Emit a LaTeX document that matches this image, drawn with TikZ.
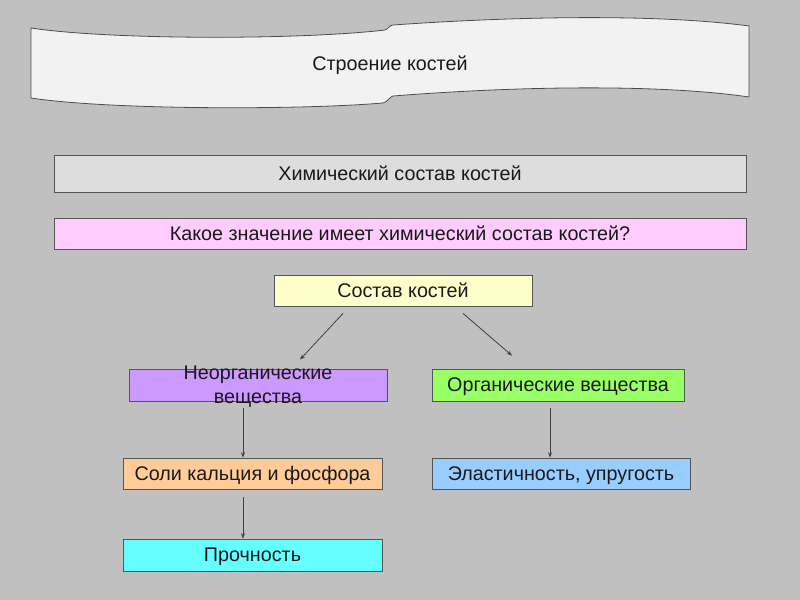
\documentclass[tikz,border=0pt]{standalone}
\usepackage{fontspec}
\setmainfont{Liberation Sans}
\usetikzlibrary{arrows.meta}
\definecolor{bg}{HTML}{C0C0C0}
\definecolor{edge}{HTML}{555555}
\definecolor{cchem}{HTML}{DDDDDD}
\definecolor{cq}{HTML}{FFCCFF}
\definecolor{csost}{HTML}{FFFFCC}
\definecolor{cneorg}{HTML}{CC99FF}
\definecolor{corg}{HTML}{99FF66}
\definecolor{csoli}{HTML}{FFCC99}
\definecolor{celast}{HTML}{99CCFF}
\definecolor{cproch}{HTML}{66FFFF}
\definecolor{cban}{HTML}{F2F2F2}
\tikzset{
  txt/.style={font=\fontsize{14.8}{18}\selectfont, text=black!90},
  box/.style={txt, draw=edge, line width=0.6pt, inner sep=0pt, text depth=0pt},
  conn/.style={draw=black!75, line width=0.6pt, -{Stealth[length=4pt,width=3pt]}}
}
\begin{document}
\begin{tikzpicture}[x=0.75pt,y=-0.75pt]
\fill[bg] (0,0) rectangle (800,600);
\useasboundingbox (0,0) rectangle (800,600);
% banner
\draw[fill=cban, draw=black!70, line width=0.6pt]
  (31,28) .. controls (110,40) and (300,40) .. (385,30)
  .. controls (389,29) and (389,25) .. (393,25)
  .. controls (520,16) and (660,14) .. (749,26)
  -- (749,97)
  .. controls (660,84) and (520,86) .. (393,96)
  .. controls (389,97) and (388,102) .. (383,103)
  .. controls (300,110) and (110,110) .. (31,98) -- cycle;
\node[txt, text depth=0pt] (title) at (390,63) {Строение костей};
% boxes
\node[box, fill=cchem, minimum width=519pt, minimum height=27.75pt] (chem) at (400,173.5) {Химический состав костей};
\node[box, fill=cq, minimum width=519pt, minimum height=23.25pt] (q) at (400,233.5) {Какое значение имеет химический состав костей?};
\node[box, fill=csost, minimum width=193.5pt, minimum height=23.25pt] (sost) at (403,290.5) {Состав костей};
\node[box, fill=cneorg, minimum width=193.5pt, minimum height=24pt] (neorg) at (258,385) {};
\node[txt, align=center, inner sep=0pt] (neorgt) at ([yshift=-1.5pt]neorg.center) {Неорганические\\вещества};
\node[box, fill=corg, minimum width=189pt, minimum height=24pt] (org) at (558,385) {Органические вещества};
\node[box, fill=csoli, minimum width=194.25pt, minimum height=23.25pt] (soli) at (252.5,473.5) {Соли кальция и фосфора};
\node[box, fill=celast, minimum width=193.5pt, minimum height=23.25pt] (elast) at (561,473.5) {Эластичность, упругость};
\node[box, fill=cproch, minimum width=194.25pt, minimum height=24pt] (proch) at (252.5,555) {Прочность};
% connectors
\coordinate (s1) at ([shift={(-60,7)}]sost.south);
\coordinate (e1) at ([shift={(42,-9)}]neorg.north);
\coordinate (s2) at ([shift={(60,7)}]sost.south);
\coordinate (e2) at ([shift={(-46,-13)}]org.north);
\draw[conn] (s1) -- (e1);
\draw[conn] (s2) -- (e2);
\coordinate (s3) at ([shift={(-15,7)}]neorg.south);
\coordinate (e3) at ([shift={(-9.5,0)}]soli.north);
\draw[conn] (s3) -- (e3);
\coordinate (s4) at ([shift={(-8,7)}]org.south);
\coordinate (e4) at ([shift={(-11,0)}]elast.north);
\draw[conn] (s4) -- (e4);
\coordinate (s5) at ([shift={(-9.5,8)}]soli.south);
\coordinate (e5) at ([shift={(-9.5,0)}]proch.north);
\draw[conn] (s5) -- (e5);
\end{tikzpicture}
\end{document}
